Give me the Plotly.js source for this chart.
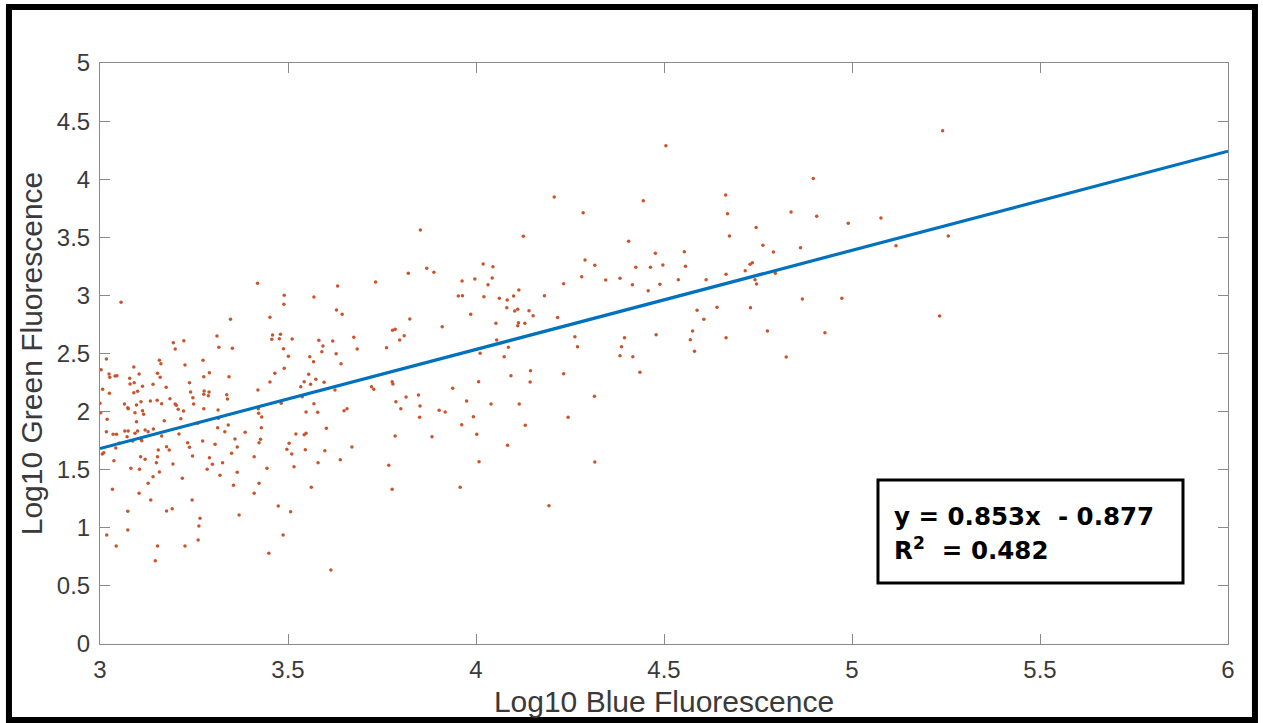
<!DOCTYPE html>
<html>
<head>
<meta charset="utf-8">
<script src="https://cdn.plot.ly/plotly-3.0.1.min.js"></script>
<style>
  html, body { margin: 0; padding: 0; background: #fff; }
  #chart { width: 1263px; height: 723px; }
</style>
</head>
<body>
<div id="chart"></div>
<script>
// ---- Data ----
// Log10 Blue Fluorescence (x) / Log10 Green Fluorescence (y), grouped by region
const blueA = [3.419,3.056,3.490,3.489,3.452,3.347,3.459,3.480,3.457,3.477,
  3.511,3.195,3.223,3.200,3.311,3.316,3.352,3.488,3.501,3.490,
  3.465,3.452,3.017,3.003,3.024,3.026,3.040,3.045,3.090,3.104,
  3.079,3.080,3.091,3.113,3.090,3.100,3.074,3.075,3.065,3.097,
  3.109,3.093,3.113,3.116,3.158,3.162,3.153,3.160,3.141,3.176,
  3.152,3.134,3.164,3.186,3.200,3.203,3.208,3.222,3.215,3.226,
  3.238,3.241,3.247,3.249,3.274,3.276,3.291,3.277,3.290,3.276,
  3.288,3.276,3.314,3.343,3.337,3.339,3.420,3.421,3.422,3.430,
  3.482,3.007,3.025,3.000,3.002,3.019];
const greenA = [3.104,2.941,3.001,2.923,2.812,2.794,2.659,2.665,2.622,2.627,
  2.625,2.593,2.610,2.539,2.651,2.553,2.545,2.541,2.476,2.373,
  2.330,2.255,2.453,2.361,2.324,2.295,2.306,2.309,2.384,2.324,
  2.287,2.238,2.249,2.218,2.163,2.175,2.034,2.025,2.065,2.057,
  2.085,1.991,2.008,1.977,2.441,2.412,2.330,2.295,2.235,2.209,
  2.097,2.091,2.068,2.111,2.065,2.054,2.020,2.005,1.939,2.401,
  2.249,2.169,2.120,2.065,2.441,2.300,2.335,2.177,2.169,2.149,
  2.137,2.025,2.014,2.300,2.146,2.108,2.186,2.025,1.985,1.954,
  2.071,2.192,2.157,2.071,1.991,1.934];

const blueB = [3.097,3.171,3.017,3.035,3.044,3.066,3.075,3.100,3.093,3.120,
  3.142,3.128,3.072,3.164,3.087,3.111,3.109,3.051,3.042,3.010,
  3.006,3.155,3.177,3.184,3.108,3.120,3.153,3.150,3.037,3.082,
  3.105,3.158,3.141,3.194,3.219,3.210,3.233,3.238,3.246,3.273,
  3.260,3.128,3.104,3.135,3.033,3.245,3.177,3.192,3.074,3.074,
  3.018,3.043,3.153,3.147,3.226,3.266,3.263,3.261,3.315,3.341,
  3.313,3.332,3.386,3.359,3.365,3.350,3.306,3.291,3.299,3.326,
  3.285,3.319,3.365,3.355,3.410,3.427,3.423,3.429,3.444,3.423,
  3.410,3.370,3.474,3.487,3.449,3.507,3.503,3.497,3.510,3.516];
const greenB = [1.913,1.922,1.827,1.805,1.805,1.833,1.833,1.833,1.813,1.842,
  1.850,1.827,1.784,1.790,1.747,1.750,1.762,1.727,1.687,1.646,
  1.635,1.670,1.698,1.670,1.612,1.589,1.612,1.560,1.577,1.512,
  1.503,1.480,1.440,1.549,1.426,1.807,1.732,1.693,1.618,1.747,
  1.899,1.383,1.297,1.239,1.331,1.239,1.145,1.165,1.142,0.981,
  0.938,0.843,0.843,0.717,0.843,1.082,1.015,0.895,1.942,1.885,
  1.862,1.827,1.822,1.764,1.695,1.641,1.718,1.603,1.546,1.560,
  1.503,1.452,1.477,1.366,1.612,1.762,1.732,1.862,1.512,1.383,
  1.297,1.110,1.188,0.938,0.780,1.139,1.727,1.676,1.635,1.526];

const blueC = [3.852,3.820,3.869,3.888,3.733,3.632,3.963,3.997,3.953,3.964,
  3.569,3.629,3.644,3.824,3.910,3.986,3.778,3.785,3.809,3.797,
  3.762,3.675,3.684,3.582,3.619,3.593,3.590,3.628,3.641,3.558,
  3.568,3.555,3.574,3.560,3.534,3.543,3.596,3.625,3.722,3.728,
  3.777,3.779,3.938,4.007,3.538,3.569,3.579,3.548,3.649,3.657,
  3.787,3.814,3.800,3.847,3.851,3.902,3.918,3.975,3.993,3.850,
  3.602,3.521,3.543,3.548,3.546,3.598,3.580,3.639,3.670,3.562,
  3.614,3.962,3.785,3.883,4.002,3.768,3.777,3.958,4.008];
const greenC = [3.563,3.190,3.233,3.199,3.115,3.081,3.124,3.141,2.995,2.997,
  2.986,2.874,2.837,2.797,2.731,2.837,2.700,2.708,2.653,2.616,
  2.550,2.639,2.539,2.614,2.608,2.565,2.516,2.498,2.412,2.472,
  2.429,2.321,2.278,2.235,2.214,2.257,2.252,2.186,2.214,2.192,
  2.257,2.238,2.200,2.257,2.128,2.068,1.994,1.997,2.008,2.025,
  2.085,2.126,2.025,2.143,2.048,2.011,1.997,2.091,1.956,1.951,
  1.856,1.807,1.801,1.813,1.672,1.664,1.560,1.586,1.695,1.349,
  0.637,1.887,1.790,1.784,1.805,1.538,1.331,1.349,1.569];

const blueD = [4.208,4.445,4.285,4.126,4.406,4.477,4.290,4.316,4.425,4.464,
  4.019,4.045,4.043,4.032,4.114,4.021,4.062,4.083,4.100,4.082,
  4.103,4.111,4.141,4.152,4.182,4.233,4.281,4.345,4.383,4.416,
  4.458,4.053,4.113,4.111,4.130,4.217,4.055,4.086,4.263,4.270,
  4.395,4.387,4.479,4.489,
  4.011,4.075,4.383,4.417,4.436,4.093,4.145,4.144,4.233,4.040,
  4.115,4.315,4.131,4.245,4.084,4.316,4.194];
const greenD = [3.847,3.815,3.712,3.509,3.466,3.362,3.305,3.259,3.242,3.242,
  3.270,3.247,3.150,3.092,3.046,2.989,2.975,2.960,2.995,2.894,
  2.866,2.880,2.868,2.825,2.997,3.101,3.161,3.133,3.147,3.092,
  3.040,2.760,2.765,2.739,2.760,2.810,2.616,2.553,2.645,2.559,
  2.636,2.559,2.662,3.095,
  2.502,2.472,2.481,2.472,2.338,2.309,2.352,2.255,2.326,2.065,
  2.065,2.132,1.882,1.951,1.710,1.566,1.190];

const blueE = [4.505,4.897,4.664,4.669,4.674,4.838,4.906,4.990,5.077,4.745,
  4.763,4.791,4.863,4.554,4.497,4.557,4.538,4.612,4.665,4.716,
  4.729,4.735,4.742,4.746,4.796,4.868,4.973,4.641,4.730,4.588,
  4.606,4.576,4.570,4.581,4.665,4.775,4.928,4.825,
  5.241,5.117,5.256,5.233];
const greenE = [4.288,4.005,3.864,3.703,3.511,3.718,3.681,3.620,3.666,3.585,
  3.431,3.374,3.411,3.376,3.262,3.250,3.135,3.135,3.182,3.213,
  3.268,3.282,3.135,3.098,3.190,2.969,2.975,2.898,2.894,2.872,
  2.794,2.694,2.619,2.519,2.636,2.694,2.679,2.470,
  4.418,3.428,3.511,2.823];

const blueLog = [].concat(blueA, blueB, blueC, blueD, blueE);
const greenLog = [].concat(greenA, greenB, greenC, greenD, greenE);

// Fit line: y = 0.853x - 0.877, R^2 = 0.482
const fitSlope = 0.853;
const fitIntercept = -0.877;
const fitR2 = 0.482;
const fitX = [3, 6];
const fitY = fitX.map(v => fitSlope * v + fitIntercept);

const xTickVals = [3, 3.5, 4, 4.5, 5, 5.5, 6];
const xTickText = ['3', '3.5', '4', '4.5', '5', '5.5', '6'];
const yTickVals = [0, 0.5, 1, 1.5, 2, 2.5, 3, 3.5, 4, 4.5, 5];
const yTickText = ['0', '0.5', '1', '1.5', '2', '2.5', '3', '3.5', '4', '4.5', '5'];

const eqLine1 = 'y = ' + fitSlope.toFixed(3) + 'x\u00a0\u00a0- ' + Math.abs(fitIntercept).toFixed(3);
const eqLine2 = 'R<sup>2</sup>\u00a0\u00a0= ' + fitR2.toFixed(3);

// ---- Plot ----
const traces = [
  {
    type: 'scatter', mode: 'markers',
    x: blueLog, y: greenLog,
    marker: { color: '#C9532A', size: 3.5, line: { width: 0 } },
    hoverinfo: 'x+y', showlegend: false
  },
  {
    type: 'scatter', mode: 'lines',
    x: fitX, y: fitY,
    line: { color: '#0072BD', width: 3.2 },
    hoverinfo: 'skip', showlegend: false
  }
];

const axisCommon = {
  showgrid: false, zeroline: false,
  showline: true, linecolor: '#8a8a8a', linewidth: 1,
  mirror: 'ticks', ticks: 'inside', ticklen: 10, tickwidth: 1, tickcolor: '#8a8a8a',
  tickfont: { family: 'Liberation Sans, Arial, sans-serif', size: 24, color: '#3a3a3a' },
  fixedrange: true
};

const layout = {
  width: 1263, height: 723,
  margin: { l: 100, r: 35, t: 63, b: 79, pad: 0 },
  paper_bgcolor: '#ffffff', plot_bgcolor: '#ffffff',
  showlegend: false,
  xaxis: Object.assign({}, axisCommon, {
    range: [3, 6], tickmode: 'array', tickvals: xTickVals, ticktext: xTickText,
    ticklabelstandoff: 4,
    title: { text: 'Log10 Blue Fluorescence', standoff: 9,
             font: { family: 'Liberation Sans, Arial, sans-serif', size: 30, color: '#3a3a3a' } }
  }),
  yaxis: Object.assign({}, axisCommon, {
    range: [0, 5], tickmode: 'array', tickvals: yTickVals, ticktext: yTickText,
    ticklabelstandoff: 4,
    title: { text: 'Log10 Green Fluorescence', standoff: 5,
             font: { family: 'Liberation Sans, Arial, sans-serif', size: 30, color: '#3a3a3a' } }
  }),
  shapes: [
    { type: 'rect', xref: 'paper', yref: 'paper', x0: -0.0807, x1: 1.0239, y0: -0.1308, y1: 1.0964,
      line: { color: '#000000', width: 6 }, fillcolor: 'rgba(0,0,0,0)', layer: 'above' },
    { type: 'rect', xref: 'paper', yref: 'paper', x0: 0.6897, x1: 0.9601, y0: 0.105, y1: 0.2823,
      line: { color: '#000000', width: 3 }, fillcolor: '#ffffff', layer: 'above' }
  ],
  annotations: [
    { xref: 'paper', yref: 'paper', x: 0.702, y: 0.2203, xanchor: 'left', yanchor: 'middle',
      text: eqLine1, showarrow: false,
      font: { family: 'DejaVu Sans, sans-serif', size: 24.5, color: '#000000', weight: 'bold' } },
    { xref: 'paper', yref: 'paper', x: 0.702, y: 0.1635, xanchor: 'left', yanchor: 'middle',
      text: eqLine2, showarrow: false,
      font: { family: 'DejaVu Sans, sans-serif', size: 24.5, color: '#000000', weight: 'bold' } }
  ]
};

Plotly.newPlot('chart', traces, layout, { staticPlot: true, displayModeBar: false });
</script>
</body>
</html>
